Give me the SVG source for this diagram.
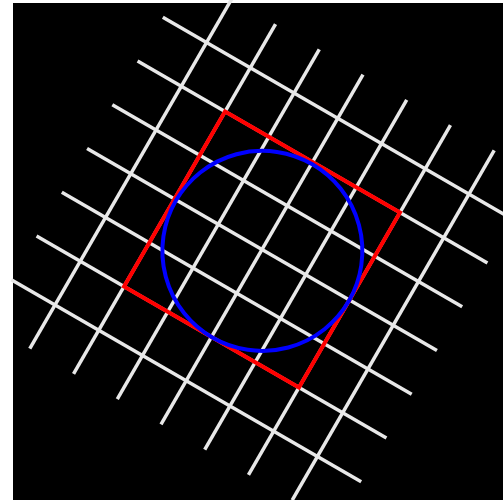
<svg xmlns="http://www.w3.org/2000/svg" width="503" height="500" viewBox="0 0 503 500">
  <style>
    .grid line { stroke: #e8e8e8; stroke-width: 3.5; stroke-linecap: butt; }
    .sq { fill: none; stroke: #ff0000; stroke-width: 4; }
    .circ { fill: none; stroke: #0000ff; stroke-width: 4; }
  </style>
  <rect x="0" y="0" width="503" height="500" fill="#ffffff"/>
  <rect x="13" y="3" width="490" height="497" fill="#000000"/>
  <g transform="translate(262,249.5) rotate(30)">
    <g id="grid" class="grid">
      <line x1="-202" y1="-151.5" x2="202" y2="-151.5"/>
      <line x1="-202" y1="-101" x2="202" y2="-101"/>
      <line x1="-202" y1="-50.5" x2="202" y2="-50.5"/>
      <line x1="-202" y1="0" x2="202" y2="0"/>
      <line x1="-202" y1="50.5" x2="202" y2="50.5"/>
      <line x1="-202" y1="101" x2="202" y2="101"/>
      <line x1="-202" y1="151.5" x2="202" y2="151.5"/>
      <line x1="-151.5" y1="-202" x2="-151.5" y2="202"/>
      <line x1="-101" y1="-202" x2="-101" y2="202"/>
      <line x1="-50.5" y1="-202" x2="-50.5" y2="202"/>
      <line x1="0" y1="-202" x2="0" y2="202"/>
      <line x1="50.5" y1="-202" x2="50.5" y2="202"/>
      <line x1="101" y1="-202" x2="101" y2="202"/>
      <line x1="151.5" y1="-202" x2="151.5" y2="202"/>
    </g>
    <rect id="square" class="sq" x="-101" y="-101" width="202" height="202"/>
    <circle id="circle" class="circ" cx="1" cy="1" r="100"/>
  </g>
</svg>
